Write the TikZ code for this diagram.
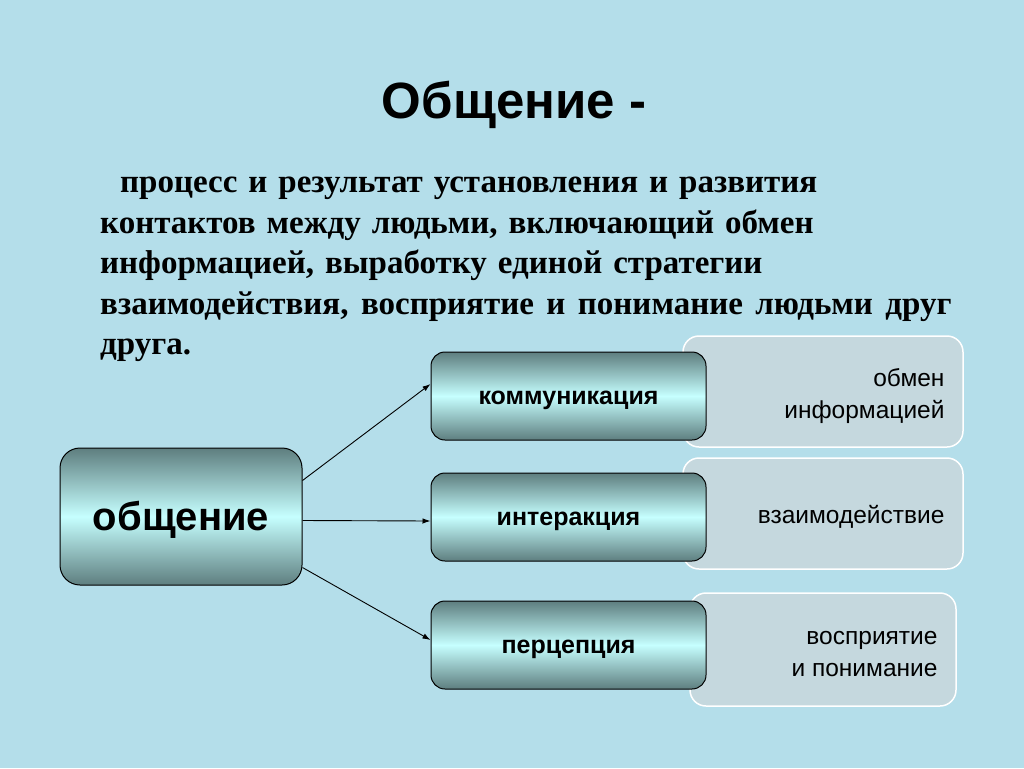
\documentclass[tikz,border=0pt]{standalone}
\usepackage{fontspec}
\setmainfont{Liberation Serif}
\newfontfamily\arial{Liberation Sans}
\usetikzlibrary{arrows.meta}
\definecolor{bg}{HTML}{B4DEEA}
\definecolor{grayfill}{HTML}{C5D8DE}
\definecolor{tealdark}{HTML}{5E7E7F}
\definecolor{teallight}{HTML}{C6FFFF}
\tikzset{
  tealbox/.style={draw=black, line width=1pt, rounded corners=14pt,
    top color=tealdark, bottom color=tealdark, middle color=teallight,
    shading angle=0},
  graybox/.style={draw=white, line width=1.5pt, fill=grayfill, rounded corners=16pt},
  graytext/.style={anchor=east, align=right, font=\arial\fontsize{24.5}{32}\selectfont},
  smalllabel/.style={font=\arial\bfseries\fontsize{25}{28}\selectfont, text height=17pt, text depth=0pt},
  conn/.style={draw=black, line width=0.9pt, -{Latex[length=8pt,width=5.5pt]}},
}
\begin{document}
\begin{tikzpicture}[x=1pt,y=-1pt]
\useasboundingbox[fill=bg] (0,0) rectangle (1024,768);
% title
\node[font=\arial\bfseries\fontsize{51}{56}\selectfont, anchor=base] (title) at (514,118) {Общение -};
% paragraph
\node[anchor=north west, align=left, inner sep=0pt,
  font=\bfseries\fontsize{33}{40.5}\selectfont, text width=880pt] (def) at (100,177)
  {\hspace{20pt}процесс и результат установления и развития\\
   контактов между людьми, включающий обмен\\
   информацией, выработку единой стратегии\\
   \spaceskip=0.38em plus 0.1em взаимодействия, восприятие и понимание людьми друг\\
   друга.};
% gray boxes
\path[graybox] (683,336) rectangle (963,447);
\path[graybox] (683,458) rectangle (963,569);
\path[graybox] (690,593) rectangle (956,706);
\node[graytext] (g1) at (948,396) {обмен\\информацией};
\node[graytext] (g2) at (948,517) {взаимодействие};
\node[graytext] (g3) at (941,654) {восприятие\\и понимание};
% teal boxes
\node[tealbox, minimum width=242pt, minimum height=137pt, rounded corners=20pt,
  font=\arial\bfseries\fontsize{40}{44}\selectfont, text height=28pt, text depth=0pt] (main) at (181,516.5) {общение};
\node[tealbox, minimum width=275pt, minimum height=88pt, smalllabel] (k) at (568.5,396) {коммуникация};
\node[tealbox, minimum width=275pt, minimum height=88pt, smalllabel] (i) at (568.5,517) {интеракция};
\node[tealbox, minimum width=275pt, minimum height=88pt, smalllabel] (p) at (568.5,645) {перцепция};
% connectors
\draw[conn] ([yshift=36pt]main.east) -- ([yshift=12pt]k.west);
\draw[conn] ([yshift=-4pt]main.east) -- ([yshift=-4pt]i.west);
\draw[conn] ([yshift=-51pt]main.east) -- ([yshift=5pt]p.west);
\end{tikzpicture}
\end{document}
